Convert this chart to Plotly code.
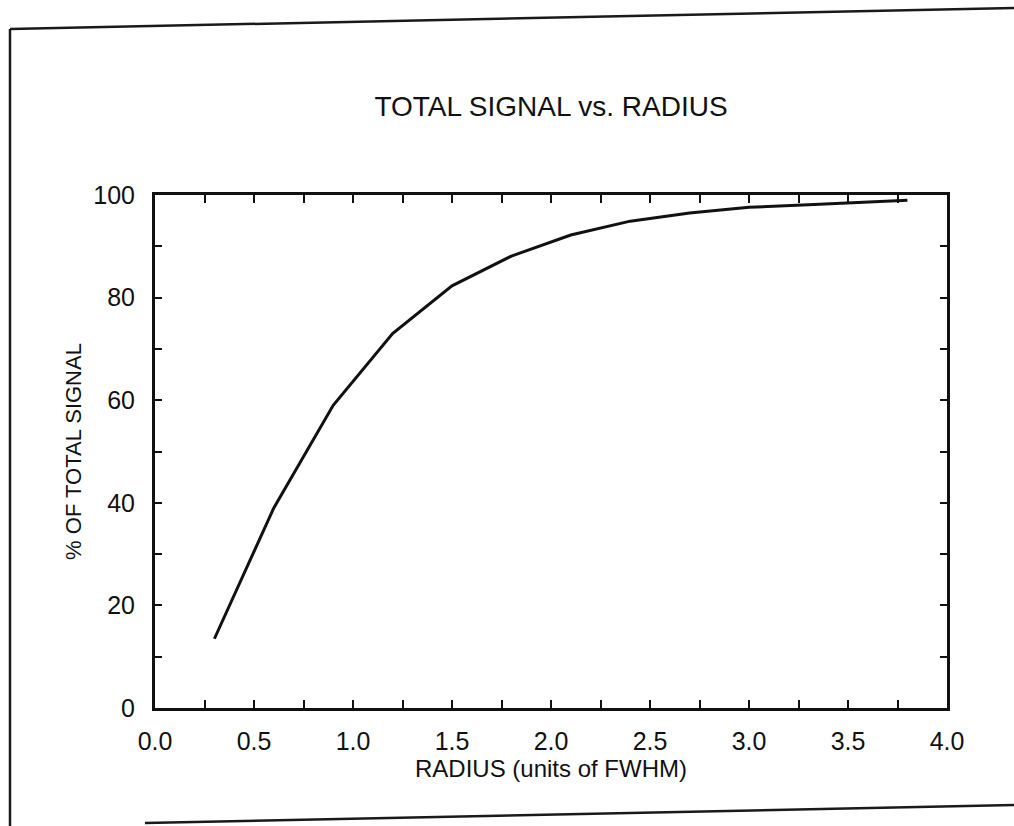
import plotly.graph_objects as go

# Data
radius = [0.3, 0.6, 0.9, 1.2, 1.5, 1.8, 2.1, 2.4, 2.7, 3.0, 3.3, 3.6, 3.8]
pct_signal = [13.5, 39.0, 59.0, 73.0, 82.3, 88.1, 92.2, 94.9, 96.5, 97.6, 98.1, 98.6, 99.0]

x_tickvals = [0.0, 0.25, 0.5, 0.75, 1.0, 1.25, 1.5, 1.75, 2.0, 2.25, 2.5, 2.75,
              3.0, 3.25, 3.5, 3.75, 4.0]
x_ticktext = ["0.0", "", "0.5", "", "1.0", "", "1.5", "", "2.0", "", "2.5", "",
              "3.0", "", "3.5", "", "4.0"]
y_tickvals = [0, 10, 20, 30, 40, 50, 60, 70, 80, 90, 100]
y_ticktext = ["0", "", "20", "", "40", "", "60", "", "80", "", "100"]

title_text = "TOTAL SIGNAL vs. RADIUS"
x_title = "RADIUS (units of FWHM)"
y_title = "% OF TOTAL SIGNAL"

W, H = 1014, 826
ML, MR, MT, MB = 155, 67, 195, 118
PW, PH = W - ML - MR, H - MT - MB


def px(xp):
    return (xp - ML) / PW


def py(yp):
    return (H - MB - yp) / PH


FONT = "Liberation Sans, Arial, sans-serif"
INK = "#111111"

fig = go.Figure()
fig.add_trace(go.Scatter(
    x=radius, y=pct_signal, mode="lines",
    line=dict(color=INK, width=3),
    hoverinfo="x+y", showlegend=False,
))

axis_common = dict(
    showgrid=False, zeroline=False,
    showline=True, linecolor=INK, linewidth=3,
    mirror="ticks", ticks="inside", tickcolor=INK, tickwidth=2,
    tickfont=dict(family=FONT, size=25, color=INK),
)

fig.update_xaxes(
    range=[0, 4], tickmode="array", tickvals=x_tickvals, ticktext=x_ticktext,
    ticklen=8, ticklabelstandoff=9,
    title=dict(text=x_title, font=dict(family=FONT, size=24, color=INK), standoff=0),
    **axis_common,
)
fig.update_yaxes(
    range=[0, 100], tickmode="array", tickvals=y_tickvals, ticktext=y_ticktext,
    ticklen=7, ticklabelstandoff=12,
    title=dict(text=y_title, font=dict(family=FONT, size=22, color=INK), standoff=6),
    **axis_common,
)

line_style = dict(color="#1a1a1a", width=2.5)
shapes = [
    # page frame from the scanned document
    dict(type="line", xref="paper", yref="paper",
         x0=px(10), y0=py(29), x1=px(10), y1=py(826), line=line_style),
    dict(type="line", xref="paper", yref="paper",
         x0=px(10), y0=py(29), x1=px(1014), y1=py(8), line=line_style),
    dict(type="line", xref="paper", yref="paper",
         x0=px(145), y0=py(823), x1=px(1014), y1=py(805), line=line_style),
]

fig.update_layout(
    width=W, height=H,
    margin=dict(l=ML, r=MR, t=MT, b=MB, autoexpand=False),
    paper_bgcolor="white", plot_bgcolor="white",
    title=dict(text=title_text, x=0.5, xref="paper", y=1 - 106 / H, yref="container",
               xanchor="center", yanchor="middle",
               font=dict(family=FONT, size=28, color=INK)),
    shapes=shapes,
)

fig.write_html("out.html")
